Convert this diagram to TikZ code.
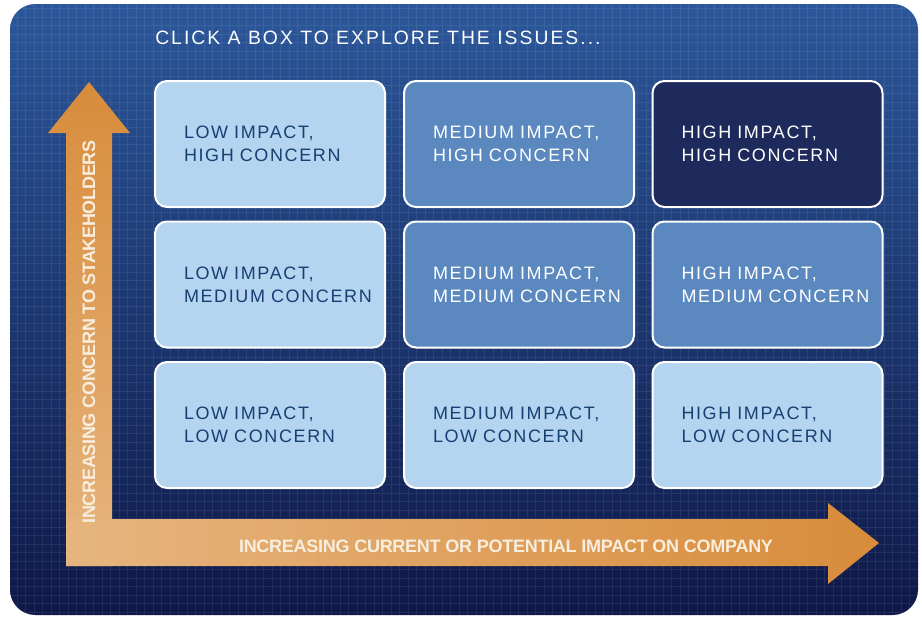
\documentclass[tikz,border=0pt]{standalone}
\usepackage{fontspec}
\setmainfont{Liberation Sans}
\newfontfamily\boxfont{Liberation Sans}[LetterSpace=9]
\newfontfamily\titlefont{Liberation Sans}[LetterSpace=10.5]
\newfontfamily\axisfont{Liberation Sans}[LetterSpace=-1.5]
\usepackage{xcolor}
\usetikzlibrary{positioning,calc}

\definecolor{panelTop}{HTML}{2B579A}
\definecolor{panelMid}{HTML}{1F4689}
\definecolor{panelBot}{HTML}{0E1848}
\definecolor{cellLight}{HTML}{B4D4EF}
\definecolor{cellMid}{HTML}{5B89BF}
\definecolor{cellDark}{HTML}{1F2A5C}
\definecolor{textDark}{HTML}{173F73}
\definecolor{axisOrange}{HTML}{D88C3B}
\definecolor{axisTan}{HTML}{E6B57F}
\definecolor{axisText}{HTML}{F8EEDF}

\tikzset{
  cell/.style={draw=white, line width=1.5pt, rounded corners=9pt,
    minimum width=172.5pt, minimum height=94.5pt, text width=172.5pt,
    inner xsep=0pt, align=left,
    execute at begin node={\leftskip=21.75pt},
    font=\boxfont\fontsize{13.5}{17.25}\selectfont},
  lightcell/.style={cell, fill=cellLight, text=textDark},
  midcell/.style={cell, fill=cellMid, text=white},
  darkcell/.style={cell, fill=cellDark, text=white},
  axislabel/.style={text=axisText, inner sep=0pt,
    font=\axisfont\bfseries\fontsize{13.5}{16}\selectfont}
}

\begin{document}
\begin{tikzpicture}[x=0.75pt,y=-0.75pt]
    \useasboundingbox (0,0) rectangle (922,618);
    \fill[white] (0,0) rectangle (922,618);

    % Panel with faint grid
    \shade[top color=panelTop, middle color=panelMid, bottom color=panelBot,
      rounded corners=19pt] (10,4) rectangle (918,615);
    \begin{scope}
      \clip[rounded corners=19pt] (10,4) rectangle (918,615);
      \draw[white, opacity=0.08, line width=0.6pt, step=6.375pt] (10,4) grid (918,615);
    \end{scope}

    \node[anchor=west, text=white!94!cellLight, inner sep=0pt,
      font=\titlefont\fontsize{14.5}{17}\selectfont] (title) at (155,38)
      {CLICK A BOX TO EXPLORE THE ISSUES...};

    % Axes
    \shade[top color=axisOrange, middle color=axisOrange!70!axisTan, bottom color=axisTan]
      (66,566) -- (66,133) -- (48,133) -- (89,82) -- (130,133) -- (112,133) -- (112,566) -- cycle;
    \shade[left color=axisTan, right color=axisOrange]
      (66,519) -- (828,519) -- (828,503) -- (879,543) -- (828,584) -- (828,566) -- (66,566) -- cycle;

    \node[axislabel, rotate=90] (concern) at (89,332) {INCREASING CONCERN TO STAKEHOLDERS};
    \node[axislabel] (impact) at (506,546) {INCREASING CURRENT OR POTENTIAL IMPACT ON COMPANY};

    % High concern row
    \node[lightcell] (lowhigh) at (270,144) {LOW IMPACT,\\HIGH CONCERN};
    \node[midcell]   (medhigh) at (519,144) {MEDIUM IMPACT,\\HIGH CONCERN};
    \node[darkcell]  (highhigh) at (767.5,144) {HIGH IMPACT,\\HIGH CONCERN};

    % Medium concern row
    \node[lightcell] (lowmed) at (270,284.5) {LOW IMPACT,\\MEDIUM CONCERN};
    \node[midcell]   (medmed) at (519,284.5) {MEDIUM IMPACT,\\MEDIUM CONCERN};
    \node[midcell]   (highmed) at (767.5,284.5) {HIGH IMPACT,\\MEDIUM CONCERN};

    % Low concern row
    \node[lightcell] (lowlow) at (270,425) {LOW IMPACT,\\LOW CONCERN};
    \node[lightcell] (medlow) at (519,425) {MEDIUM IMPACT,\\LOW CONCERN};
    \node[lightcell] (highlow) at (767.5,425) {HIGH IMPACT,\\LOW CONCERN};
\end{tikzpicture}
\end{document}
